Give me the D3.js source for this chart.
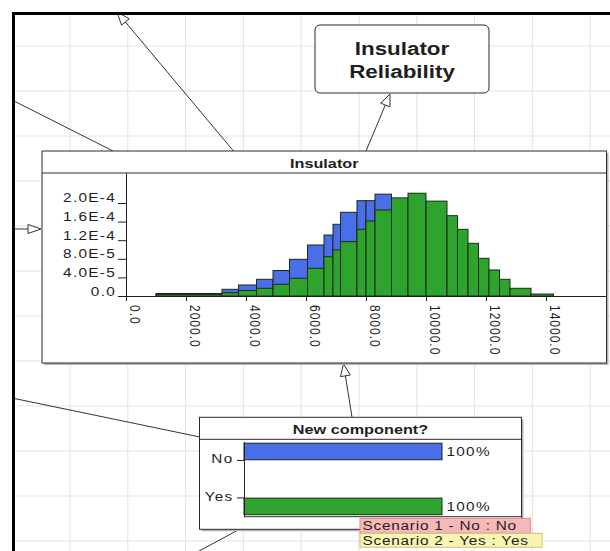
<!DOCTYPE html>
<html>
<head>
<meta charset="utf-8">
<script src="https://cdn.jsdelivr.net/npm/d3@7"></script>
<style>
  html, body { margin: 0; padding: 0; background: #fff; }
  svg { display: block; }
  text { font-family: "Liberation Sans", Arial, sans-serif; fill: #1e1e1e; }
</style>
</head>
<body>
<svg id="chart"></svg>
<script>
// histogram of the "Insulator" node, one density per bin and scenario
const binEdges = [1000, 3200, 3750, 4350, 4900, 5450, 6050, 6600, 6900, 7150, 7700, 8000,
  8300, 8850, 9400, 10000, 10700, 11050, 11400, 11750, 12100, 12450, 12800, 13500, 14250];
const densityNo = [0.54e-5, 1.44e-5, 2.37e-5, 3.59e-5, 5.48e-5, 7.89e-5, 10.97e-5, 13.12e-5,
  15.42e-5, 18.0e-5, 20.5e-5, 20.5e-5, 21.9e-5, 18.5e-5, 15.0e-5, 11.0e-5, 8.0e-5, 5.5e-5,
  3.6e-5, 2.2e-5, 1.3e-5, 0.7e-5, 0.3e-5, 0.05e-5];
const densityYes = [0.35e-5, 0.71e-5, 1.18e-5, 1.66e-5, 2.52e-5, 3.81e-5, 5.96e-5, 8.45e-5,
  9.9e-5, 11.7e-5, 14.34e-5, 16.13e-5, 18.5e-5, 21.1e-5, 22.1e-5, 20.4e-5, 17.27e-5, 14.34e-5,
  11.33e-5, 8.1e-5, 5.6e-5, 3.59e-5, 1.66e-5, 0.43e-5];
const xTicks = [0, 2000, 4000, 6000, 8000, 10000, 12000, 14000];
const yTicks = [0, 4.0e-5, 8.0e-5, 1.2e-4, 1.6e-4, 2.0e-4];

// "New component?" node
const states = ["No", "Yes"];
const scenarios = ["Scenario 1 - No : No", "Scenario 2 - Yes : Yes"];
const shareByState = [[100, 0], [0, 100]]; // percent, per state then scenario

const scenarioColors = ["#4a6ee8", "#2ea32e"];
const legendFill = ["#f6b8b8", "#f8f4b4"];
const legendStroke = ["#d58e8e", "#c9c27e"];

const W = 610, H = 551;
const SX = 1.28;   // the screenshot is stretched horizontally
const FONT = '"Liberation Sans", Arial, sans-serif';
const INK = "#2a2a2a";

const svg = d3.select("#chart").attr("width", W).attr("height", H);

function stretchText(sel, x, y, extra) {
  sel.attr("x", 0).attr("y", 0).attr("dy", null)
    .attr("transform", `translate(${x},${y}) scale(${SX},1)${extra ? " " + extra : ""}`);
}

// grid
const grid = svg.append("g").attr("stroke", "#e3e3e3").attr("stroke-width", 1);
d3.range(0, 10).forEach(k => {
  const x = 70 + k * 57.8;
  grid.append("line").attr("x1", x).attr("x2", x).attr("y1", 15).attr("y2", H);
});
d3.range(1, 13).forEach(k => {
  const y = 1 + k * 45;
  grid.append("line").attr("x1", 15).attr("x2", W).attr("y1", y).attr("y2", y);
});

// links between nodes
const links = svg.append("g").attr("stroke", "#333").attr("stroke-width", 1).attr("fill", "none");
function plainLine(x1, y1, x2, y2) {
  links.append("line").attr("x1", x1).attr("y1", y1).attr("x2", x2).attr("y2", y2);
}
function arrow(x1, y1, x2, y2, len, hw) {
  const dx = x2 - x1, dy = y2 - y1, L = Math.hypot(dx, dy);
  const ux = dx / L, uy = dy / L;
  const bx = x2 - ux * len, by = y2 - uy * len;
  plainLine(x1, y1, bx, by);
  links.append("polygon")
    .attr("points", [[x2, y2], [bx - uy * hw, by + ux * hw], [bx + uy * hw, by - ux * hw]].join(" "))
    .attr("fill", "#fff");
}
plainLine(12, 100, 113, 151);
plainLine(12, 398, 200, 437);
plainLine(240, 529, 188, 557);
arrow(233.5, 151, 117, 12, 13, 5);
arrow(366, 151, 390, 94, 12, 5);
arrow(12, 229, 41, 229, 13, 4.5);
arrow(352, 417, 343.5, 364, 12, 5);

// Insulator Reliability node
svg.append("rect").attr("x", 315).attr("y", 25).attr("width", 174).attr("height", 68)
  .attr("rx", 5).attr("fill", "#fff").attr("stroke", INK);
["Insulator", "Reliability"].forEach((t, i) => {
  svg.append("text").text(t).attr("text-anchor", "middle")
    .attr("font-size", 17.5).attr("font-weight", "bold")
    .call(stretchText, 402, 55 + i * 22.5);
});

function nodeBox(x, y, w, h, titleH, title) {
  svg.append("rect").attr("x", x + 2).attr("y", y + 2).attr("width", w).attr("height", h)
    .attr("fill", "#b4b4b4");
  svg.append("rect").attr("x", x).attr("y", y).attr("width", w).attr("height", h)
    .attr("fill", "#fff").attr("stroke", INK);
  svg.append("line").attr("x1", x).attr("x2", x + w).attr("y1", y + titleH).attr("y2", y + titleH)
    .attr("stroke", INK);
  svg.append("text").text(title).attr("text-anchor", "middle")
    .attr("font-size", 12.7).attr("font-weight", "bold")
    .call(stretchText, x + w / 2, y + titleH - 5.5);
}

// ---- Insulator histogram ----
nodeBox(42, 151, 564.5, 212, 22, "Insulator");

const xHist = d3.scaleLinear().domain([0, 16000]).range([126, 606]);
const yHist = d3.scaleLinear().domain([0, 2.645e-4]).range([296, 173]);

const hist = svg.append("g");
[densityNo, densityYes].forEach((series, s) => {
  hist.append("g").selectAll("rect")
    .data(series)
    .join("rect")
    .attr("x", (d, i) => xHist(binEdges[i]))
    .attr("width", (d, i) => xHist(binEdges[i + 1]) - xHist(binEdges[i]))
    .attr("y", d => yHist(d))
    .attr("height", d => yHist(0) - yHist(d))
    .attr("fill", scenarioColors[s])
    .attr("stroke", "#1c2a1c")
    .attr("stroke-width", 1);
});

const fmtY = d => d === 0 ? "0.0" : d3.format(".1e")(d).replace("e", "E").replace("+", "");

const yAxis = svg.append("g")
  .attr("transform", `translate(${xHist(0)},0)`)
  .call(d3.axisLeft(yHist).tickValues(yTicks).tickFormat(fmtY).tickSize(8).tickSizeOuter(0));
yAxis.selectAll(".tick text")
  .attr("font-size", 12).attr("letter-spacing", 1).attr("text-anchor", "end")
  .each(function () { d3.select(this).call(stretchText, -10, -1); });

const xAxis = svg.append("g")
  .attr("transform", `translate(0,${yHist(0)})`)
  .call(d3.axisBottom(xHist).tickValues(xTicks).tickFormat(d => d.toFixed(1)).tickSize(5).tickSizeOuter(0));
xAxis.selectAll(".tick text")
  .attr("font-size", 12).attr("letter-spacing", 1).attr("text-anchor", "start")
  .each(function () { d3.select(this).call(stretchText, 3, 9, "rotate(90)"); });

[yAxis, xAxis].forEach(a => {
  a.attr("font-family", FONT).attr("color", "#1e1e1e");
  a.selectAll("text").attr("fill", "#1e1e1e");
});

// ---- New component? ----
nodeBox(199.5, 417.3, 322, 112, 22, "New component?");

const xCat = d3.scaleLinear().domain([0, 100]).range([244, 442]);
const yCat = d3.scaleBand().domain(states).range([441.7, 516.7]);
const ySub = d3.scaleBand().domain(scenarios).range([1.5, 35.5]).paddingInner(0.05);

const catBars = svg.append("g");
states.forEach((st, i) => {
  scenarios.forEach((sc, j) => {
    const v = shareByState[i][j];
    if (v <= 0) return;
    const y0 = yCat(st) + ySub(sc);
    catBars.append("rect")
      .attr("x", xCat(0)).attr("y", y0)
      .attr("width", xCat(v) - xCat(0)).attr("height", ySub.bandwidth())
      .attr("fill", scenarioColors[j]).attr("stroke", "#1c2a1c");
    catBars.append("text").text(v + "%")
      .attr("font-size", 12).attr("letter-spacing", 1)
      .call(stretchText, xCat(v) + 4.5, y0 + ySub.bandwidth() / 2 + 4.3);
  });
});

svg.append("line").attr("x1", xCat(0)).attr("x2", 521.5)
  .attr("y1", yCat.range()[1]).attr("y2", yCat.range()[1]).attr("stroke", INK);

const catAxis = svg.append("g")
  .attr("transform", `translate(${xCat(0)},0)`)
  .call(d3.axisLeft(yCat).tickSize(7).tickSizeOuter(0));
catAxis.attr("font-family", FONT).attr("color", "#1e1e1e");
catAxis.selectAll(".tick text")
  .attr("font-size", 12).attr("letter-spacing", 1).attr("text-anchor", "end").attr("fill", "#1e1e1e")
  .each(function () { d3.select(this).call(stretchText, -10.5, 3); });

// scenario legend
const legend = svg.append("g");
scenarios.forEach((sc, j) => {
  const y0 = 518.3 + j * 15;
  const r = legend.append("rect").attr("x", 360).attr("y", y0).attr("height", j === 0 ? 15 : 14)
    .attr("fill", legendFill[j]).attr("stroke", legendStroke[j]);
  const t = legend.append("text").text(sc)
    .attr("font-size", 12).attr("letter-spacing", 0.6)
    .call(stretchText, 362.5, y0 + 12);
  r.attr("width", t.node().getComputedTextLength() * SX + 16);
});

// outer frame of the canvas
svg.append("line").attr("x1", 13.5).attr("x2", 13.5).attr("y1", 12).attr("y2", H)
  .attr("stroke", "#000").attr("stroke-width", 3);
svg.append("line").attr("x1", 12).attr("x2", W).attr("y1", 13.5).attr("y2", 13.5)
  .attr("stroke", "#000").attr("stroke-width", 3);
</script>
</body>
</html>
